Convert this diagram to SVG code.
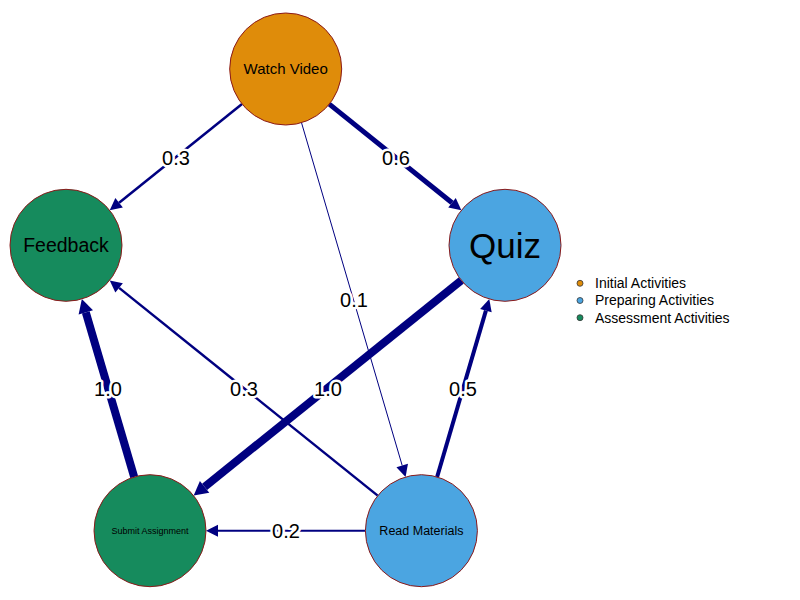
<svg xmlns="http://www.w3.org/2000/svg" width="800" height="600" viewBox="0 0 800 600">
<style>
.node{stroke:#8B1A1A;stroke-width:1}
.init{fill:#DF8C0A}
.prep{fill:#4BA5E1}
.assess{fill:#168B5D}
.nl{font-family:"Liberation Sans",Arial,sans-serif;fill:#000;text-anchor:middle}
.edge{stroke:#000080;fill:none;stroke-linecap:butt}
.el{font-family:"Liberation Sans",Arial,sans-serif;font-size:20px;fill:#000;text-anchor:middle;stroke:#fff;stroke-width:5;stroke-linejoin:round;paint-order:stroke}
.lg{font-family:"Liberation Sans",Arial,sans-serif;font-size:14px;fill:#000}
.ld{stroke:#333;stroke-width:0.8}
</style>
<defs>
<marker id="arr" markerUnits="userSpaceOnUse" markerWidth="14" markerHeight="14" viewBox="0 -7 14 14" refX="0" refY="0" orient="auto" overflow="visible">
<path d="M0,-6 L12,0 L0,6 Z" fill="#000080"/>
</marker>
<marker id="arrL" markerUnits="userSpaceOnUse" markerWidth="16" markerHeight="16" viewBox="0 -8 16 16" refX="0" refY="0" orient="auto" overflow="visible">
<path d="M0,-7.5 L14,0 L0,7.5 Z" fill="#000080"/>
</marker>
</defs>
<rect width="800" height="600" fill="#fff"/>
<g id="edges">
<line class="edge" x1="242.0" y1="104.0" x2="119.1" y2="202.8" stroke-width="2.5" marker-end="url(#arr)"/>
<line class="edge" x1="329.3" y1="104.1" x2="452.0" y2="202.7" stroke-width="5" marker-end="url(#arr)"/>
<line class="edge" x1="301.5" y1="122.7" x2="402.2" y2="465.5" stroke-width="1" marker-end="url(#arr)"/>
<line class="edge" x1="461.35" y1="280.4" x2="204.6" y2="486.8" stroke-width="8" marker-end="url(#arrL)"/>
<line class="edge" x1="437.1" y1="477.0" x2="485.9" y2="310.6" stroke-width="4" marker-end="url(#arr)"/>
<line class="edge" x1="377.7" y1="495.6" x2="119.1" y2="287.9" stroke-width="2.5" marker-end="url(#arr)"/>
<line class="edge" x1="134.2" y1="477.0" x2="85.8" y2="312.4" stroke-width="8" marker-end="url(#arrL)"/>
<line class="edge" x1="365.4" y1="530.7" x2="218" y2="530.7" stroke-width="2" marker-end="url(#arr)"/>
<text class="el" x="176" y="165">0.3</text>
<text class="el" x="396" y="165">0.6</text>
<text class="el" x="354" y="307">0.1</text>
<text class="el" x="328" y="396">1.0</text>
<text class="el" x="463" y="396">0.5</text>
<text class="el" x="244" y="396">0.3</text>
<text class="el" x="108" y="396">1.0</text>
<text class="el" x="286" y="538">0.2</text>
</g>
<g id="node-watch-video">
<circle class="node init" cx="285.7" cy="69" r="56"/>
<text class="nl" x="285.7" y="74.4" font-size="15">Watch Video</text>
</g>
<g id="node-feedback">
<circle class="node assess" cx="66" cy="245.3" r="56"/>
<text class="nl" x="66" y="252.3" font-size="19.5">Feedback</text>
</g>
<g id="node-quiz">
<circle class="node prep" cx="505" cy="245.3" r="56"/>
<text class="nl" x="505" y="257.9" font-size="35">Quiz</text>
</g>
<g id="node-submit-assignment">
<circle class="node assess" cx="150" cy="530.7" r="56"/>
<text class="nl" x="150" y="534" font-size="9">Submit Assignment</text>
</g>
<g id="node-read-materials">
<circle class="node prep" cx="421.4" cy="530.7" r="56"/>
<text class="nl" x="421.4" y="535.2" font-size="12.5">Read Materials</text>
</g>
<g id="legend">
<circle class="ld init" cx="580" cy="283.3" r="3"/>
<text class="lg" x="595" y="288.2">Initial Activities</text>
<circle class="ld prep" cx="580" cy="300.5" r="3"/>
<text class="lg" x="595" y="305.4">Preparing Activities</text>
<circle class="ld assess" cx="580" cy="317.7" r="3"/>
<text class="lg" x="595" y="322.6">Assessment Activities</text>
</g>
</svg>
